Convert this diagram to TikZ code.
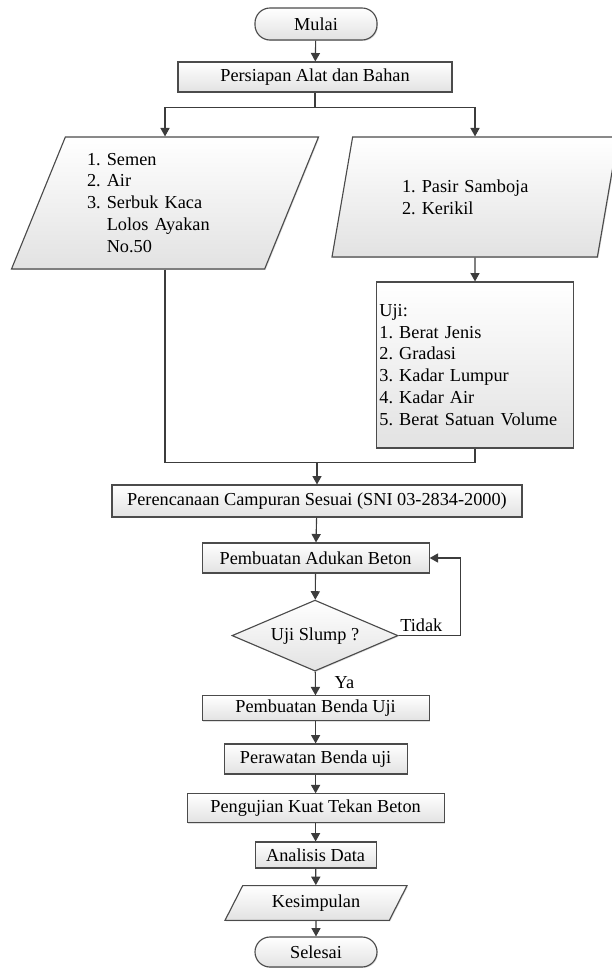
\documentclass[tikz,border=0pt]{standalone}
\usepackage{fontspec}
\setmainfont{Liberation Serif}
\usetikzlibrary{arrows.meta,positioning,calc,shapes.geometric,shadows}
\definecolor{AlirGaris}{RGB}{75,75,75}
\definecolor{AlirPanah}{RGB}{60,60,60}
\definecolor{AlirIsi}{RGB}{226,226,226}
\tikzset{
  dasar/.style={draw=AlirGaris, line width=0.8pt, top color=white, bottom color=AlirIsi,
                drop shadow={shadow xshift=0.7pt, shadow yshift=-0.7pt, opacity=0.25},
                font=\fontsize{13}{15.6}\selectfont, inner sep=2pt},
  kotak/.style={dasar, rectangle, align=center},
  terminal/.style={dasar, rectangle, rounded corners=0.375cm, align=center},
  jajar/.style={dasar, trapezium, trapezium left angle=63, trapezium right angle=117,
                trapezium stretches body, align=left},
  belah/.style={dasar, diamond, aspect=2.34, inner sep=1pt, align=center},
  garis/.style={line width=0.8pt, AlirPanah},
  panah/.style={-{Triangle[length=6pt, width=6.5pt]}, line width=0.8pt, AlirPanah},
  keterangan/.style={font=\fontsize{13}{15.6}\selectfont, inner sep=1pt},
}
\begin{document}
\begin{tikzpicture}
  \useasboundingbox (0,0) rectangle (15.275,-24.2);

  % Awal dan persiapan
  \node[terminal, minimum width=3.05cm, minimum height=0.8cm] (mulai) at (7.9,-0.6) {Mulai};
  \node[kotak, minimum width=6.85cm, minimum height=0.75cm] (persiapan) at (7.875,-1.925) {Persiapan Alat dan Bahan};

  % Bahan (kiri) dan agregat (kanan)
  \node[jajar, minimum width=7.675cm, minimum height=3.3cm, text width=3.9cm] (bahan) at (4.125,-5.075)
    {1.~Semen\\2.~Air\\3.~Serbuk Kaca\\\phantom{3.~}Lolos Ayakan\\\phantom{3.~}No.50};
  \node[jajar, minimum width=7.15cm, minimum height=3.0cm, text width=3.65cm] (agregat) at (11.875,-4.925)
    {1.~Pasir Samboja\\2.~Kerikil};
  \node[kotak, align=left, text width=4.78cm, minimum width=4.925cm, minimum height=4.15cm] (uji) at (11.875,-9.125)
    {Uji:\\1.~Berat Jenis\\2.~Gradasi\\3.~Kadar Lumpur\\4.~Kadar Air\\5.~Berat Satuan Volume};

  % Alur utama
  \node[kotak, minimum width=10.25cm, minimum height=0.8cm] (rencana) at (7.925,-12.525)
    {Perencanaan Campuran Sesuai (SNI 03-2834-2000)};
  \node[kotak, minimum width=5.675cm, minimum height=0.75cm] (adukan) at (7.89,-13.95) {Pembuatan Adukan Beton};
  \node[belah, minimum width=4.15cm, minimum height=1.775cm] (slump) at (7.875,-15.89) {Uji Slump ?};
  \node[kotak, minimum width=5.675cm, minimum height=0.625cm] (benda) at (7.89,-17.71) {Pembuatan Benda Uji};
  \node[kotak, minimum width=4.575cm, minimum height=0.75cm] (rawat) at (7.89,-18.975) {Perawatan Benda uji};
  \node[kotak, minimum width=6.425cm, minimum height=0.725cm] (tekan) at (7.89,-20.21) {Pengujian Kuat Tekan Beton};
  \node[kotak, minimum width=3.025cm, minimum height=0.65cm] (analisis) at (7.89,-21.375) {Analisis Data};
  \node[jajar, trapezium stretches body=false, minimum width=4.55cm, minimum height=0.75cm] (simpul) at (7.9,-22.575) {Kesimpulan};
  \node[terminal, minimum width=3.05cm, minimum height=0.75cm] (selesai) at (7.9,-23.8) {Selesai};

  \node[keterangan, anchor=south west] (tidak) at ($(slump.east)+(0,0.05)$) {Tidak};
  \node[keterangan] (ya) at (8.61,-17.075) {Ya};

  % Penghubung
  \draw[panah] (mulai) -- (persiapan);
  \draw[garis] (persiapan.south) -- ++(0,-0.375) coordinate (cabang);
  \draw[panah] (cabang) -| (bahan.north);
  \draw[panah] (cabang) -| (agregat.north);
  \draw[panah] (agregat.south) -- (uji.north);
  \coordinate (gabung) at ($(rencana.north)+(0,0.55)$);
  \draw[garis] (bahan.south) |- (gabung) -| (uji.south);
  \draw[panah] (gabung) -- (rencana.north);
  \draw[panah] (rencana) -- (adukan);
  \draw[panah] (adukan) -- (slump);
  \draw[panah] (slump.east) -- ++(1.55,0) |- (adukan.east);
  \foreach \a/\b in {slump/benda, benda/rawat, rawat/tekan, tekan/analisis, analisis/simpul, simpul/selesai}{
    \draw[panah] (\a) -- (\b);
  }
\end{tikzpicture}
\end{document}
